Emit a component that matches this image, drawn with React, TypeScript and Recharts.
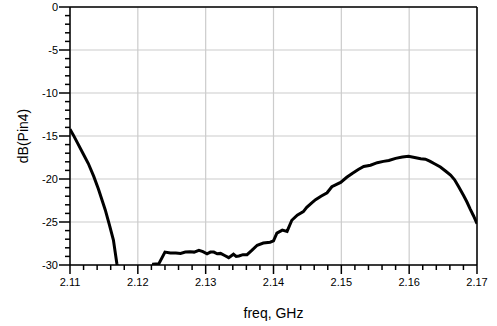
import React from "react";
import {
  LineChart,
  Line,
  XAxis,
  YAxis,
  CartesianGrid,
  ReferenceLine,
} from "recharts";

const freqs = [
  2.11, 2.1105, 2.1111, 2.1119, 2.1127, 2.1135, 2.1142, 2.1152, 2.1158, 2.1164,
  2.1169, 2.1172, 2.122, 2.1223, 2.1231, 2.124, 2.1248, 2.1256, 2.1263, 2.127,
  2.1277, 2.1283, 2.129, 2.1296, 2.1302, 2.1307, 2.1312, 2.1317, 2.1322, 2.1328,
  2.1334, 2.1341, 2.1345, 2.1349, 2.1355, 2.1361, 2.1368, 2.1376, 2.1385, 2.1395,
  2.14, 2.1405, 2.1413, 2.142, 2.1427, 2.1435, 2.1444, 2.1449, 2.1456, 2.1462,
  2.147, 2.1479, 2.1486, 2.1499, 2.1508, 2.1516, 2.1525, 2.1533, 2.1543, 2.1553,
  2.1562, 2.157, 2.158, 2.159, 2.1599, 2.1608, 2.1617, 2.1624, 2.1631, 2.1638,
  2.1646, 2.1654, 2.1661, 2.1667, 2.1673, 2.168, 2.1685, 2.169, 2.1695, 2.17,
];

const dbPin4 = [
  -14.2, -14.9, -15.8, -17.0, -18.2, -19.7, -21.2, -23.6, -25.3, -27.1,
  -29.8, -31.0, -31.0, -29.9, -29.85, -28.5, -28.6, -28.6, -28.65, -28.5,
  -28.45, -28.5, -28.3, -28.45, -28.7, -28.5, -28.5, -28.7, -28.65, -28.9,
  -29.15, -28.75, -29.0, -28.95, -28.8, -28.8, -28.3, -27.7, -27.45, -27.35,
  -27.2, -26.3, -25.95, -26.1, -24.8, -24.2, -23.8, -23.3, -22.8, -22.4,
  -22.0, -21.6, -20.9, -20.4, -19.8, -19.35, -18.9, -18.55, -18.4, -18.1,
  -17.95, -17.85, -17.6, -17.45, -17.35, -17.5, -17.65, -17.7, -17.95, -18.25,
  -18.6, -19.1, -19.55, -20.1, -20.9, -21.9, -22.65, -23.5, -24.3, -25.2,
];

const xMajorTicks = [2.11, 2.12, 2.13, 2.14, 2.15, 2.16, 2.17];
const xMinorTicks = [
  2.112, 2.114, 2.116, 2.118, 2.122, 2.124, 2.126, 2.128, 2.132, 2.134, 2.136,
  2.138, 2.142, 2.144, 2.146, 2.148, 2.152, 2.154, 2.156, 2.158, 2.162, 2.164,
  2.166, 2.168,
];
const yMajorTicks = [0, -5, -10, -15, -20, -25, -30];
const yMinorTicks = [
  -1, -2, -3, -4, -6, -7, -8, -9, -11, -12, -13, -14, -16, -17, -18, -19, -21,
  -22, -23, -24, -26, -27, -28, -29,
];

const data = freqs.map((f, i) => ({ f, db: dbPin4[i] }));
const xAllTicks = [...xMajorTicks, ...xMinorTicks].sort((a, b) => a - b);
const yAllTicks = [...yMajorTicks, ...yMinorTicks].sort((a, b) => a - b);

const isMajor = (v: number, majors: number[]) =>
  majors.some((m) => Math.abs(m - v) < 1e-6);

const font = "'Liberation Sans', Arial, Helvetica, sans-serif";

const XTick = (props: any) => {
  const { x, y, payload } = props;
  const v = Number(payload.value);
  const major = isMajor(v, xMajorTicks);
  const len = major ? 9 : 5;
  return (
    <g>
      <path d={`M${x},${y}L${x},${y + len}`} stroke="#000" strokeWidth={1.5} fill="none" />
      {major && (
        <text
          x={x}
          y={y + 13}
          dy="0.71em"
          textAnchor="middle"
          fill="#000"
          fontSize={11}
          fontFamily={font}
        >
          {v.toFixed(2)}
        </text>
      )}
    </g>
  );
};

const YTick = (props: any) => {
  const { x, y, payload } = props;
  const v = Number(payload.value);
  const major = isMajor(v, yMajorTicks);
  const len = major ? 11 : 5;
  return (
    <g>
      <path d={`M${x - len},${y}L${x},${y}`} stroke="#000" strokeWidth={1.5} fill="none" />
      {major && (
        <text
          x={x - 12}
          y={y}
          dy="0.355em"
          textAnchor="end"
          fill="#000"
          fontSize={11}
          fontFamily={font}
        >
          {String(v)}
        </text>
      )}
    </g>
  );
};

export default function App() {
  return (
    <div style={{ position: "absolute", left: 0, top: 0, width: 497, height: 326, background: "#fff" }}>
      <LineChart
        width={497}
        height={326}
        data={data}
        margin={{ top: 7, right: 20, left: 0, bottom: 0 }}
      >
        <CartesianGrid
          stroke="#cccccc"
          strokeWidth={1.2}
          horizontalValues={yMajorTicks}
          verticalValues={xMajorTicks}
        />
        <XAxis
          dataKey="f"
          type="number"
          domain={[2.11, 2.17]}
          ticks={xAllTicks}
          tickSize={0}
          tickMargin={0}
          interval={0}
          axisLine={{ stroke: "#000", strokeWidth: 1.5 }}
          tickLine={false}
          tick={<XTick />}
          height={61}
          allowDataOverflow
          label={{
            value: "freq, GHz",
            position: "insideBottom",
            offset: 8,
            fill: "#000",
            fontSize: 14,
            fontFamily: font,
          }}
        />
        <YAxis
          type="number"
          domain={[-30, 0]}
          ticks={yAllTicks}
          tickSize={0}
          tickMargin={0}
          interval={0}
          axisLine={{ stroke: "#000", strokeWidth: 1.5 }}
          tickLine={false}
          tick={<YTick />}
          width={70}
          allowDataOverflow
          label={{
            value: "dB(Pin4)",
            angle: -90,
            position: "insideLeft",
            offset: 23,
            style: { textAnchor: "middle" },
            fill: "#000",
            fontSize: 14,
            fontFamily: font,
          }}
        />
        <ReferenceLine y={0} stroke="#000" strokeWidth={1.5} />
        <ReferenceLine x={2.17} stroke="#000" strokeWidth={1.5} />
        <Line
          dataKey="db"
          type="linear"
          stroke="#000"
          strokeWidth={3}
          dot={false}
          activeDot={false}
          isAnimationActive={false}
        />
      </LineChart>
    </div>
  );
}
